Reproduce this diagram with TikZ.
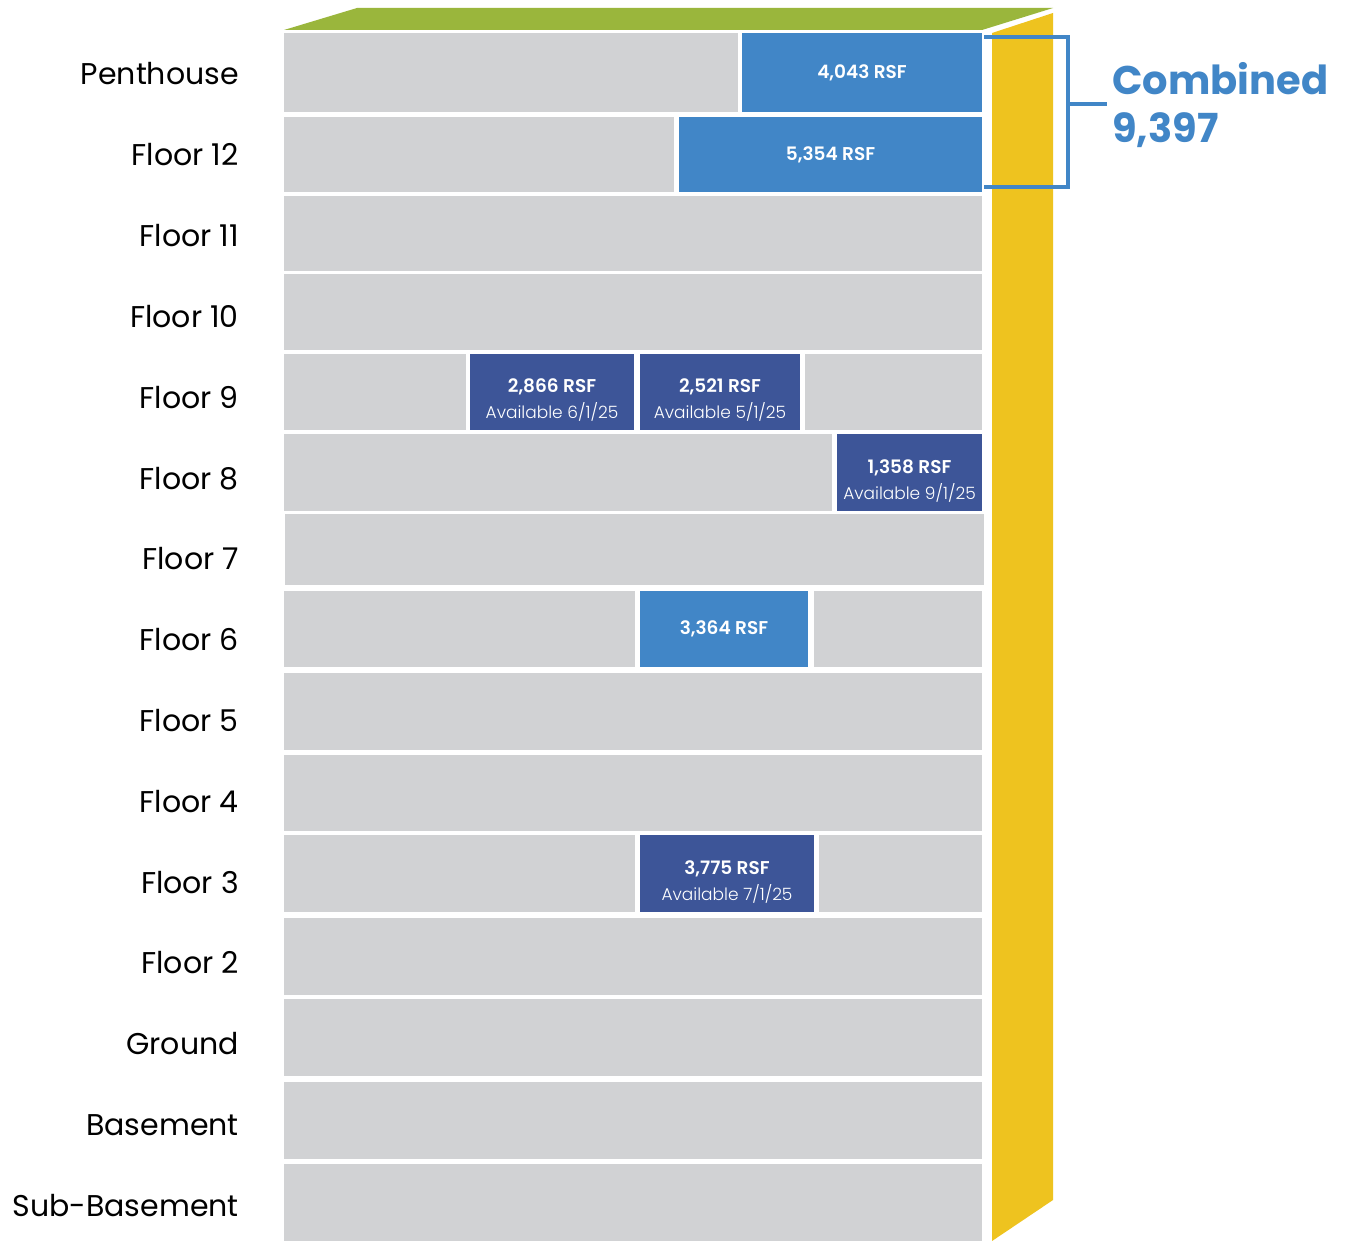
\documentclass[tikz,border=0pt]{standalone}
\usepackage{fontspec}
\setmainfont{Poppins}
\newfontfamily\poplight{Poppins Light}
\newfontfamily\popsemi{Poppins SemiBold}
\definecolor{flgray}{HTML}{D1D2D4}
\definecolor{lblue}{HTML}{4186C7}
\definecolor{dblue}{HTML}{3D5598}
\definecolor{roofgreen}{HTML}{9AB63C}
\definecolor{sideyellow}{HTML}{EEC31F}
\tikzset{
  seg/.style={inner sep=0pt, outer sep=0pt, draw=none, align=center, text=white},
  grayseg/.style={seg, fill=flgray},
  lseg/.style={seg, fill=lblue, font=\popsemi\fontsize{18.5}{22}\selectfont},
  dseg/.style={seg, fill=dblue, font=\popsemi\fontsize{18.5}{25}\selectfont},
  flab/.style={anchor=base east, inner sep=0pt, font=\fontsize{30}{36}\selectfont, text=black},
  bracketline/.style={draw=lblue, line width=4pt},
  combo/.style={anchor=base west, inner sep=0pt, text=lblue, font=\bfseries\fontsize{40}{48}\selectfont}
}
\def\rowtops{{33,117,196,274,354,434,514,591,673,755,835,918,999,1082,1164}}
\def\rowbots{{112,192,271,350,430,511,585,667,750,831,912,995,1076,1159,1241}}
\newcommand\seg[6]{%
  \pgfmathsetmacro\segtop{\rowtops[#4]}%
  \pgfmathsetmacro\segh{\rowbots[#4]-\rowtops[#4]}%
  \pgfmathsetmacro\segw{#3-#2}%
  \node[#5, minimum width=\segw pt, minimum height=\segh pt, anchor=north west] (#1) at (#2,\segtop) {#6};}
\newcommand\flab[3]{%
  \pgfmathsetmacro\labb{33+80.8*#2+52}%
  \node[flab] (#1) at (239,\labb) {#3};}
\newcommand\avail[2]{\rule{0pt}{30pt}#1\\[1pt]{\poplight\fontsize{17}{22}\selectfont Available #2}}
\begin{document}
\begin{tikzpicture}[x=1pt,y=-1pt]
\useasboundingbox[fill=white] (0,0) rectangle (1348,1241);
% roof and side
\fill[roofgreen] (284,30) -- (357,8) -- (1053,8) -- (982,30) -- cycle;
\fill[sideyellow] (992,33) -- (1053,13) -- (1053,1200) -- (992,1241) -- cycle;
% floors
\seg{ph-a}{284}{738}{0}{grayseg}{}
\seg{ph-b}{742}{982}{0}{lseg}{4,043 RSF}
\seg{f12-a}{284}{674}{1}{grayseg}{}
\seg{f12-b}{679}{982}{1}{lseg}{5,354 RSF}
\seg{f11}{284}{982}{2}{grayseg}{}
\seg{f10}{284}{982}{3}{grayseg}{}
\seg{f9-a}{284}{466}{4}{grayseg}{}
\seg{f9-b}{470}{634}{4}{dseg}{\avail{2,866 RSF}{6/1/25}}
\seg{f9-c}{640}{800}{4}{dseg}{\avail{2,521 RSF}{5/1/25}}
\seg{f9-d}{805}{982}{4}{grayseg}{}
\seg{f8-a}{284}{832}{5}{grayseg}{}
\seg{f8-b}{837}{982}{5}{dseg}{\avail{1,358 RSF}{9/1/25}}
\seg{f7}{285}{984}{6}{grayseg}{}
\seg{f6-a}{284}{635}{7}{grayseg}{}
\seg{f6-b}{640}{808}{7}{lseg}{3,364 RSF}
\seg{f6-c}{814}{982}{7}{grayseg}{}
\seg{f5}{284}{982}{8}{grayseg}{}
\seg{f4}{284}{982}{9}{grayseg}{}
\seg{f3-a}{284}{635}{10}{grayseg}{}
\seg{f3-b}{640}{814}{10}{dseg}{\avail{3,775 RSF}{7/1/25}}
\seg{f3-c}{819}{982}{10}{grayseg}{}
\seg{f2}{284}{982}{11}{grayseg}{}
\seg{fg}{284}{982}{12}{grayseg}{}
\seg{fb}{284}{982}{13}{grayseg}{}
\seg{fsb}{284}{982}{14}{grayseg}{}
% labels
\flab{l-ph}{0}{Penthouse}
\flab{l-12}{1}{Floor 12}
\flab{l-11}{2}{Floor 11}
\flab{l-10}{3}{Floor 10}
\flab{l-9}{4}{Floor 9}
\flab{l-8}{5}{Floor 8}
\flab{l-7}{6}{Floor 7}
\flab{l-6}{7}{Floor 6}
\flab{l-5}{8}{Floor 5}
\flab{l-4}{9}{Floor 4}
\flab{l-3}{10}{Floor 3}
\flab{l-2}{11}{Floor 2}
\flab{l-g}{12}{Ground}
\flab{l-b}{13}{Basement}
\flab{l-sb}{14}{Sub-Basement}
% bracket
\coordinate (bt) at (984,37);
\coordinate (bb) at (984,187);
\coordinate (bmid) at (1068,104);
\coordinate (bend) at (1107,104);
\draw[bracketline] (bt) -- (1068,37) -- (1068,187) -- (bb);
\draw[bracketline] (bmid) -- (bend);
\node[combo] (comb1) at (1112,95) {Combined};
\node[combo] (comb2) at (1112,143) {9,397};
\end{tikzpicture}
\end{document}
